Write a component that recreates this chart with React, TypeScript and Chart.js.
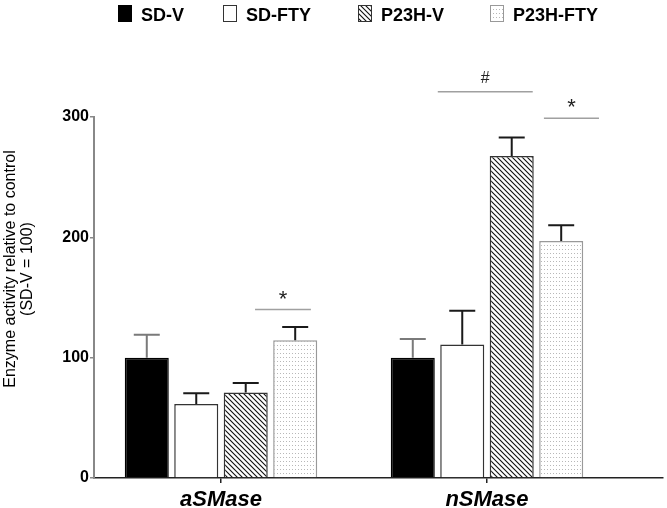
import React, { useEffect, useRef } from 'react';
import { Chart, registerables } from 'chart.js';

Chart.register(...registerables);

// ---- data ----
const categories = ['aSMase', 'nSMase'];
const seriesNames = ['SD-V', 'SD-FTY', 'P23H-V', 'P23H-FTY'];
const sdV = [100, 100];
const sdFTY = [61.5, 111];
const p23hV = [71, 267.5];
const p23hFTY = [114.5, 197];
const sdVErr = [19, 15.5];
const sdFTYErr = [9, 28];
const p23hVErr = [8, 15.5];
const p23hFTYErr = [11, 13];
const yTicks = [0, 100, 200, 300];
const yTitleLines = ['Enzyme activity relative to control', '(SD-V = 100)'];
// significance markers (x in category units, 1 = aSMase, 2 = nSMase; level in y units)
const sigText = ['*', '#', '*'];
const sigFrom = [1.128, 1.815, 2.214];
const sigTo = [1.338, 2.172, 2.421];
const sigLevel = [140, 321, 299];

const FONT = "'Liberation Sans', Arial, Helvetica, sans-serif";

function makeHatch(): CanvasPattern | string {
  const c = document.createElement('canvas');
  c.width = 5;
  c.height = 5;
  const g = c.getContext('2d');
  if (!g) return '#888';
  g.fillStyle = '#ffffff';
  g.fillRect(0, 0, 5, 5);
  g.strokeStyle = '#111111';
  g.lineWidth = 1.1;
  g.beginPath();
  g.moveTo(0, 0);
  g.lineTo(5, 5);
  g.moveTo(-1, 4);
  g.lineTo(1, 6);
  g.moveTo(4, -1);
  g.lineTo(6, 1);
  g.stroke();
  return g.createPattern(c, 'repeat') || '#888';
}

function makeDots(): CanvasPattern | string {
  const c = document.createElement('canvas');
  c.width = 3;
  c.height = 4;
  const g = c.getContext('2d');
  if (!g) return '#eee';
  g.fillStyle = '#ffffff';
  g.fillRect(0, 0, 3, 4);
  g.fillStyle = '#b8b8b8';
  g.fillRect(1, 1, 1, 1);
  return g.createPattern(c, 'repeat') || '#eee';
}

export default function App() {
  const ref = useRef<HTMLCanvasElement | null>(null);

  useEffect(() => {
    document.body.style.margin = '0';
    const canvas = ref.current;
    if (!canvas) return;

    const hatch = makeHatch();
    const dots = makeDots();
    const values = [sdV, sdFTY, p23hV, p23hFTY];
    const errs = [sdVErr, sdFTYErr, p23hVErr, p23hFTYErr];
    const fills: any[] = ['#000000', '#ffffff', hatch, dots];
    const borders = ['#000000', '#333333', '#333333', '#999999'];
    const errColors = ['#7a7a7a', '#1a1a1a', '#1a1a1a', '#1a1a1a'];
    const legendX = [118, 223, 358, 490];

    const datasets = seriesNames.map((name, d) => ({
      label: name,
      data: categories.map((_, i) => ({ x: i + 1, y: values[d][i] })),
      backgroundColor: fills[d],
      borderColor: borders[d],
      borderWidth: 1.5,
      categoryPercentage: 0.744,
      barPercentage: 0.89,
    }));

    const errorPlugin = {
      id: 'errorBars',
      afterDatasetsDraw(chart: any) {
        const ctx = chart.ctx;
        const y = chart.scales.y;
        ctx.save();
        datasets.forEach((_, d) => {
          const meta = chart.getDatasetMeta(d);
          meta.data.forEach((el: any, i: number) => {
            const top = y.getPixelForValue(values[d][i]);
            const end = y.getPixelForValue(values[d][i] + errs[d][i]);
            ctx.strokeStyle = errColors[d];
            ctx.lineWidth = 2;
            ctx.beginPath();
            ctx.moveTo(el.x, top);
            ctx.lineTo(el.x, end);
            ctx.moveTo(el.x - 13, end);
            ctx.lineTo(el.x + 13, end);
            ctx.stroke();
          });
        });
        ctx.restore();
      },
    };

    const sigPlugin = {
      id: 'significance',
      afterDraw(chart: any) {
        const ctx = chart.ctx;
        const xs = chart.scales.x;
        const ys = chart.scales.y;
        ctx.save();
        sigText.forEach((t, k) => {
          const x1 = xs.getPixelForValue(sigFrom[k]);
          const x2 = xs.getPixelForValue(sigTo[k]);
          const yy = ys.getPixelForValue(sigLevel[k]);
          ctx.strokeStyle = '#a0a0a0';
          ctx.lineWidth = 1.5;
          ctx.beginPath();
          ctx.moveTo(x1, yy);
          ctx.lineTo(x2, yy);
          ctx.stroke();
          ctx.fillStyle = '#222';
          ctx.textAlign = 'center';
          ctx.textBaseline = 'alphabetic';
          if (t === '*') {
            ctx.font = `22px ${FONT}`;
            ctx.fillText(t, (x1 + x2) / 2, yy - 4);
          } else {
            ctx.font = `16px ${FONT}`;
            ctx.fillText(t, (x1 + x2) / 2, yy - 9);
          }
        });
        ctx.restore();
      },
    };

    const legendPlugin = {
      id: 'customLegend',
      afterDraw(chart: any) {
        const ctx = chart.ctx;
        ctx.save();
        seriesNames.forEach((name, d) => {
          const bx = legendX[d];
          ctx.fillStyle = fills[d];
          ctx.fillRect(bx, 5, 14, 17);
          ctx.strokeStyle = borders[d];
          ctx.lineWidth = 1;
          ctx.strokeRect(bx + 0.5, 5.5, 13, 16);
          ctx.fillStyle = '#000';
          ctx.font = `bold 18px ${FONT}`;
          ctx.textAlign = 'left';
          ctx.textBaseline = 'alphabetic';
          ctx.fillText(name, bx + 23, 20.5);
        });
        ctx.restore();
      },
    };

    const yTitlePlugin = {
      id: 'yTitle',
      afterDraw(chart: any) {
        const ctx = chart.ctx;
        ctx.save();
        ctx.fillStyle = '#000';
        ctx.font = `16px ${FONT}`;
        ctx.textAlign = 'center';
        ctx.textBaseline = 'alphabetic';
        const baseX = [15, 32];
        yTitleLines.forEach((line, k) => {
          ctx.save();
          ctx.translate(baseX[k], 269);
          ctx.rotate(-Math.PI / 2);
          ctx.fillText(line, 0, 0);
          ctx.restore();
        });
        ctx.restore();
      },
    };

    const chart = new Chart(canvas, {
      type: 'bar',
      data: { datasets: datasets as any },
      options: {
        animation: false,
        responsive: false,
        layout: { padding: { top: 117, right: 4, left: 0, bottom: 0 } },
        plugins: {
          legend: { display: false },
          tooltip: { enabled: false },
          title: { display: false },
        },
        scales: {
          x: {
            type: 'linear',
            min: 0.5226,
            max: 2.6617,
            offset: false,
            grid: {
              offset: false,
              drawOnChartArea: false,
              drawTicks: true,
              tickLength: 5,
              color: '#222',
              lineWidth: 1.5,
            },
            border: { color: '#222', width: 1.5 },
            afterBuildTicks: (scale: any) => {
              scale.ticks = categories.map((_, i) => ({ value: i + 1 }));
            },
            afterFit: (scale: any) => {
              scale.height = 30;
            },
            ticks: {
              autoSkip: false,
              maxRotation: 0,
              padding: 4,
              color: '#000',
              font: { family: FONT, size: 22, weight: 'bold', style: 'italic' },
              callback: (v: any) => categories[Math.round(Number(v)) - 1] ?? '',
            },
          },
          y: {
            min: yTicks[0],
            max: yTicks[yTicks.length - 1],
            grid: {
              drawOnChartArea: false,
              drawTicks: true,
              tickLength: 4,
              color: '#888',
              lineWidth: 1.5,
            },
            border: { color: '#888', width: 2 },
            afterBuildTicks: (scale: any) => {
              scale.ticks = yTicks.map((v) => ({ value: v }));
            },
            afterFit: (scale: any) => {
              scale.width = 94;
            },
            ticks: {
              padding: 1,
              color: '#000',
              font: { family: FONT, size: 16, weight: 'bold' },
            },
          },
        },
      } as any,
      plugins: [errorPlugin, sigPlugin, legendPlugin, yTitlePlugin],
    });

    return () => chart.destroy();
  }, []);

  return (
    <div style={{ position: 'absolute', left: 0, top: 0, width: 667, height: 508 }}>
      <canvas ref={ref} width={667} height={508} style={{ display: 'block' }} />
    </div>
  );
}
